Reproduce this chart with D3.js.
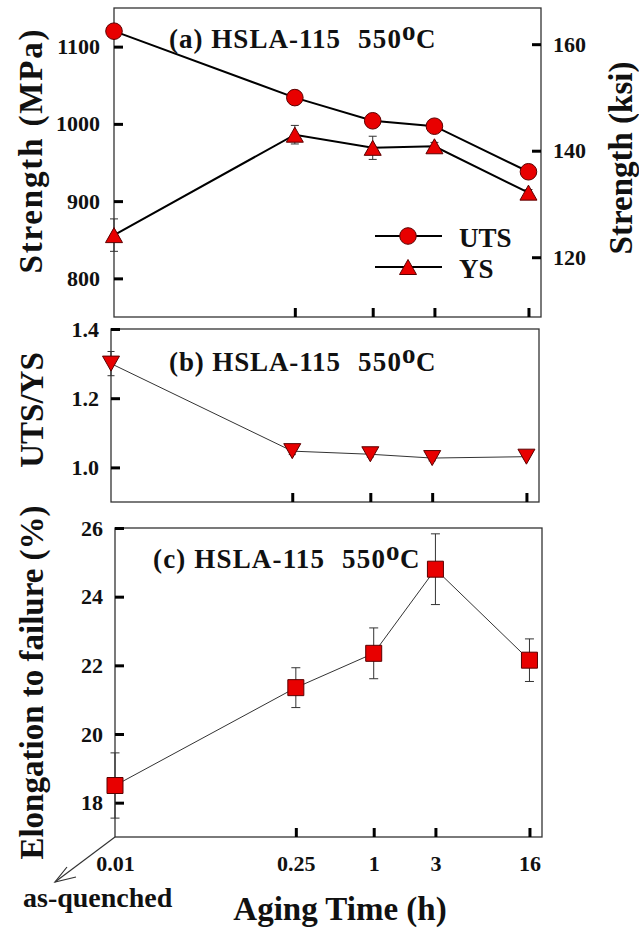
<!DOCTYPE html>
<html>
<head>
<meta charset="utf-8">
<script src="https://cdn.jsdelivr.net/npm/d3@7"></script>
<style>
  html, body { margin: 0; padding: 0; background: #fff; }
  svg { display: block; }
  text { font-family: "Liberation Serif", "Times New Roman", serif; font-weight: bold; fill: #111; }
</style>
</head>
<body>
<script>
// ---------------- data ----------------
const agingTimes = [0.01, 0.25, 1, 3, 16];
const xTickLabels = ["0.01", "0.25", "1", "3", "16"];
const innerTickTimes = [0.25, 1, 3, 16];

const utsMPa = [1120, 1034, 1004, 997, 938];
const utsErr = [0, 9, 6, 4, 4];
const ysMPa = [856, 986, 969, 971, 911];
const ysErr = [21, 12, 15, 5, 4];

const ratioUtsYs = [1.30, 1.047, 1.038, 1.027, 1.031];
const ratioErr = [0.035, 0.01, 0.008, 0.008, 0.006];

const elongation = [18.5, 21.35, 22.35, 24.8, 22.15];
const elongErr = [0.95, 0.58, 0.74, 1.03, 0.62];

const strengthTicks = [800, 900, 1000, 1100];
const ksiTicks = [120, 140, 160];
const ratioTicks = [1.0, 1.2, 1.4];
const elongTicks = [18, 20, 22, 24, 26];

const legendLabels = ["UTS", "YS"];
const MPA_PER_KSI = 6.894757;

// ---------------- setup ----------------
const W = 639, H = 928;
const svg = d3.select("body").append("svg").attr("width", W).attr("height", H);
const RED = "#e80000";
const MK_STROKE = "#5a0000";

const markerPaths = {
  triUp: "M0,-7.5L8.5,7.5L-8.5,7.5Z",
  triDown: "M0,7.5L8.5,-7.5L-8.5,-7.5Z",
  square: "M-8,-8H8V8H-8Z"
};

function drawMarkers(g, pts, shape) {
  if (shape === "circle") {
    g.selectAll(null).data(pts).join("circle")
      .attr("cx", d => d[0]).attr("cy", d => d[1]).attr("r", 8.3)
      .attr("fill", RED).attr("stroke", MK_STROKE).attr("stroke-width", 1);
  } else {
    g.selectAll(null).data(pts).join("path")
      .attr("d", markerPaths[shape])
      .attr("transform", d => `translate(${d[0]},${d[1]})`)
      .attr("fill", RED).attr("stroke", MK_STROKE).attr("stroke-width", 1);
  }
}

function drawErrorBars(g, x, y, xs, vals, errs, cap) {
  const data = xs.map((t, i) => ({ t, v: vals[i], e: errs[i] })).filter(d => d.e > 0);
  const eg = g.append("g").attr("stroke", "#333").attr("stroke-width", 1).attr("fill", "none");
  data.forEach(d => {
    const cx = x(d.t), y1 = y(d.v + d.e), y2 = y(d.v - d.e);
    eg.append("line").attr("x1", cx).attr("x2", cx).attr("y1", y1).attr("y2", y2);
    eg.append("line").attr("x1", cx - cap).attr("x2", cx + cap).attr("y1", y1).attr("y2", y1);
    eg.append("line").attr("x1", cx - cap).attr("x2", cx + cap).attr("y1", y2).attr("y2", y2);
  });
}

function drawSeries(g, x, y, vals, errs, shape, lineW, lineColor, cap) {
  drawErrorBars(g, x, y, agingTimes, vals, errs, cap);
  const line = d3.line().x((d, i) => x(agingTimes[i])).y(d => y(d));
  g.append("path").attr("d", line(vals)).attr("fill", "none")
    .attr("stroke", lineColor).attr("stroke-width", lineW);
  drawMarkers(g, vals.map((v, i) => [x(agingTimes[i]), y(v)]), shape);
}

function styleAxis(ag, fontSize) {
  ag.select(".domain").remove();
  ag.selectAll(".tick line").attr("stroke", "#000").attr("stroke-width", 3);
  ag.selectAll(".tick text").attr("font-size", fontSize)
    .attr("font-family", '"Liberation Serif", "Times New Roman", serif')
    .attr("font-weight", "bold").attr("fill", "#111");
}

function drawTitle(letter, x0, yb) {
  const g = svg.append("g").attr("font-size", 27);
  g.append("text").attr("x", x0).attr("y", yb).attr("textLength", 171)
    .attr("lengthAdjust", "spacing").text(`(${letter}) HSLA-115`);
  g.append("text").attr("x", x0 + 189).attr("y", yb).attr("textLength", 43)
    .attr("lengthAdjust", "spacing").text("550");
  g.append("text").attr("x", x0 + 233).attr("y", yb - 8).text("o");
  g.append("text").attr("x", x0 + 247).attr("y", yb).text("C");
}

function frame(L, R, T, B) {
  svg.append("rect").attr("x", L).attr("y", T).attr("width", R - L).attr("height", B - T)
    .attr("fill", "none").attr("stroke", "#333").attr("stroke-width", 1.3);
}

// ---------------- panel (a) ----------------
{
  const L = 114, R = 541, T = 8, B = 317;
  const x = d3.scaleLog().domain([0.01, 20]).range([L, R]);
  const y = d3.scaleLinear().domain([750, 1150]).range([B, T]);
  const yK = d3.scaleLinear().domain([750 / MPA_PER_KSI, 1150 / MPA_PER_KSI]).range([B, T]);
  frame(L, R, T, B);
  styleAxis(svg.append("g").attr("transform", `translate(${L},0)`)
    .call(d3.axisLeft(y).tickValues(strengthTicks).tickSize(-9).tickPadding(14).tickFormat(d3.format("d"))), 22);
  styleAxis(svg.append("g").attr("transform", `translate(${R},0)`)
    .call(d3.axisRight(yK).tickValues(ksiTicks).tickSize(-9).tickPadding(12).tickFormat(d3.format("d"))), 22);
  styleAxis(svg.append("g").attr("transform", `translate(0,${B})`)
    .call(d3.axisBottom(x).tickValues(innerTickTimes).tickSize(-9).tickFormat("")), 22);
  const g = svg.append("g");
  drawSeries(g, x, y, utsMPa, utsErr, "circle", 2, "#000", 4);
  drawSeries(g, x, y, ysMPa, ysErr, "triUp", 2, "#000", 4);
  drawTitle("a", 169, 48);

  // legend
  const lg = svg.append("g");
  const lx1 = 375, lx2 = 442, lmx = 408;
  const lys = [236, 267];
  lys.forEach((ly, i) => {
    lg.append("line").attr("x1", lx1).attr("x2", lx2).attr("y1", ly).attr("y2", ly)
      .attr("stroke", "#000").attr("stroke-width", 2);
    drawMarkers(lg, [[lmx, ly]], i === 0 ? "circle" : "triUp");
    lg.append("text").attr("x", 459).attr("y", ly + 11).attr("font-size", 27).text(legendLabels[i]);
  });

  svg.append("text").attr("transform", `translate(42,${(T + B) / 2 - 11}) rotate(-90)`)
    .attr("text-anchor", "middle").attr("font-size", 33)
    .attr("textLength", 244).attr("lengthAdjust", "spacing").text("Strength (MPa)");
  svg.append("text").attr("transform", `translate(632,158) rotate(-90)`)
    .attr("text-anchor", "middle").attr("font-size", 33).text("Strength (ksi)");
}

// ---------------- panel (b) ----------------
{
  const L = 111, R = 539, T = 329, B = 502;
  const x = d3.scaleLog().domain([0.01, 20]).range([L, R]);
  const y = d3.scaleLinear().domain([0.9, 1.4]).range([B, T]);
  frame(L, R, T, B);
  styleAxis(svg.append("g").attr("transform", `translate(${L},0)`)
    .call(d3.axisLeft(y).tickValues(ratioTicks).tickSize(-9).tickPadding(12).tickFormat(d3.format(".1f"))), 22);
  styleAxis(svg.append("g").attr("transform", `translate(0,${B})`)
    .call(d3.axisBottom(x).tickValues(innerTickTimes).tickSize(-9).tickFormat("")), 22);
  const g = svg.append("g");
  drawSeries(g, x, y, ratioUtsYs, ratioErr, "triDown", 1, "#333", 3.5);
  drawTitle("b", 169, 371);
  svg.append("text").attr("transform", `translate(43,410) rotate(-90)`)
    .attr("text-anchor", "middle").attr("font-size", 33).text("UTS/YS");
}

// ---------------- panel (c) ----------------
{
  const L = 115, R = 542, T = 528, B = 837;
  const x = d3.scaleLog().domain([0.01, 20]).range([L, R]);
  const y = d3.scaleLinear().domain([17, 26]).range([B, T]);
  frame(L, R, T, B);
  styleAxis(svg.append("g").attr("transform", `translate(${L},0)`)
    .call(d3.axisLeft(y).tickValues(elongTicks).tickSize(-9).tickPadding(12).tickFormat(d3.format("d"))), 22);
  const xa = svg.append("g").attr("transform", `translate(0,${B})`)
    .call(d3.axisBottom(x).tickValues(agingTimes).tickSize(-9).tickPadding(18)
      .tickFormat((d, i) => xTickLabels[i]));
  styleAxis(xa, 22);
  xa.selectAll(".tick line").filter(d => d === agingTimes[0]).remove();
  const g = svg.append("g");
  drawSeries(g, x, y, elongation, elongErr, "square", 1, "#333", 4.5);
  drawTitle("c", 153, 568);
  svg.append("text").attr("transform", `translate(43,${(T + B) / 2}) rotate(-90)`)
    .attr("text-anchor", "middle").attr("font-size", 33).text("Elongation to failure (%)");

  // as-quenched arrow
  const ax0 = x(agingTimes[0]), ay0 = B;
  const tip = [55, 882];
  const ag = svg.append("g").attr("stroke", "#333").attr("stroke-width", 1.2).attr("fill", "none");
  ag.append("line").attr("x1", ax0).attr("y1", ay0).attr("x2", tip[0]).attr("y2", tip[1]);
  ag.append("path").attr("d", `M${tip[0] + 21},${tip[1] - 5}L${tip[0]},${tip[1]}L${tip[0] + 12},${tip[1] - 15}`);
  svg.append("text").attr("x", 23).attr("y", 907).attr("font-size", 28).text("as-quenched");
  svg.append("text").attr("x", 340).attr("y", 920).attr("text-anchor", "middle")
    .attr("font-size", 33).text("Aging Time (h)");
}
</script>
</body>
</html>
